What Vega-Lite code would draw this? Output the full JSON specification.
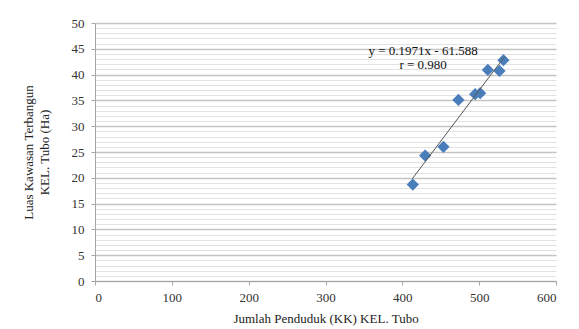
{
  "$schema": "https://vega.github.io/schema/vega-lite/v6.json",
  "width": 461,
  "height": 258,
  "autosize": {"type": "none"},
  "padding": {"left": 95, "top": 23, "right": 23, "bottom": 48},
  "background": "white",
  "config": {
    "view": {"stroke": null},
    "font": "Liberation Serif",
    "axis": {
      "labelFont": "Liberation Serif", "labelFontSize": 13, "labelColor": "#333",
      "titleFont": "Liberation Serif", "titleFontSize": 13, "titleFontWeight": "normal", "titleColor": "#222",
      "domainColor": "#a6a6a6", "tickColor": "#a6a6a6", "tickSize": 4,
      "labelOverlap": false
    },
    "axisX": {"grid": false},
    "text": {"font": "Liberation Serif"}
  },
  "datasets": {
    "pts": [
      {"kk": 413.6, "luas": 18.7},
      {"kk": 429.7, "luas": 24.3},
      {"kk": 453.5, "luas": 26.0},
      {"kk": 473.0, "luas": 35.1},
      {"kk": 494.8, "luas": 36.2},
      {"kk": 501.3, "luas": 36.4},
      {"kk": 511.3, "luas": 40.9},
      {"kk": 526.4, "luas": 40.7},
      {"kk": 531.6, "luas": 42.8}
    ],
    "trend": [
      {"kk": 413.0, "luas": 19.81},
      {"kk": 533.0, "luas": 43.47}
    ],
    "notes": [
      {"kk": 427, "luas": 44.6, "txt": "y = 0.1971x - 61.588"},
      {"kk": 427, "luas": 41.9, "txt": "r = 0.980"}
    ]
  },
  "layer": [
    {
      "data": {"name": "pts"},
      "mark": {"type": "point", "shape": "diamond", "filled": true, "color": "#4a7ebb", "opacity": 1, "size": 150},
      "encoding": {
        "x": {
          "field": "kk", "type": "quantitative",
          "scale": {"domain": [0, 600], "nice": false},
          "axis": {
            "values": [0, 100, 200, 300, 400, 500, 600],
            "tickCount": 10,
            "format": "d",
            "grid": false,
            "title": "Jumlah Penduduk (KK) KEL. Tubo",
            "titlePadding": 8,
            "labelPadding": 6,
            "labelFont": "Liberation Serif"
          }
        },
        "y": {
          "field": "luas", "type": "quantitative",
          "scale": {"domain": [0, 50], "nice": false},
          "axis": {
            "values": [0,1,2,3,4,5,6,7,8,9,10,11,12,13,14,15,16,17,18,19,20,21,22,23,24,25,26,27,28,29,30,31,32,33,34,35,36,37,38,39,40,41,42,43,44,45,46,47,48,49,50],
            "tickCount": 100,
            "format": "d",
            "grid": true,
            "gridColor": {"condition": {"test": "datum.value % 5 === 0", "value": "#c4c4c4"}, "value": "#e2e2e2"},
            "gridWidth": {"condition": {"test": "datum.value % 5 === 0", "value": 1.3}, "value": 1},
            "tickColor": {"condition": {"test": "datum.value % 5 === 0", "value": "#a6a6a6"}, "value": "transparent"},
            "labelExpr": "datum.value % 5 === 0 ? datum.label : ''",
            "labelFont": "Liberation Serif",
            "title": ["Luas Kawasan Terbangun", "KEL. Tubo (Ha)"],
            "titlePadding": 20, "titleLineHeight": 16,
            "labelPadding": 7
          }
        }
      }
    },
    {
      "data": {"name": "trend"},
      "mark": {"type": "line", "color": "#555555", "strokeWidth": 1},
      "encoding": {
        "x": {"field": "kk", "type": "quantitative"},
        "y": {"field": "luas", "type": "quantitative"}
      }
    },
    {
      "data": {"name": "notes"},
      "mark": {"type": "text", "font": "Liberation Serif", "fontSize": 13, "color": "#111", "align": "center", "baseline": "middle"},
      "encoding": {
        "x": {"field": "kk", "type": "quantitative"},
        "y": {"field": "luas", "type": "quantitative"},
        "text": {"field": "txt"}
      }
    }
  ]
}
